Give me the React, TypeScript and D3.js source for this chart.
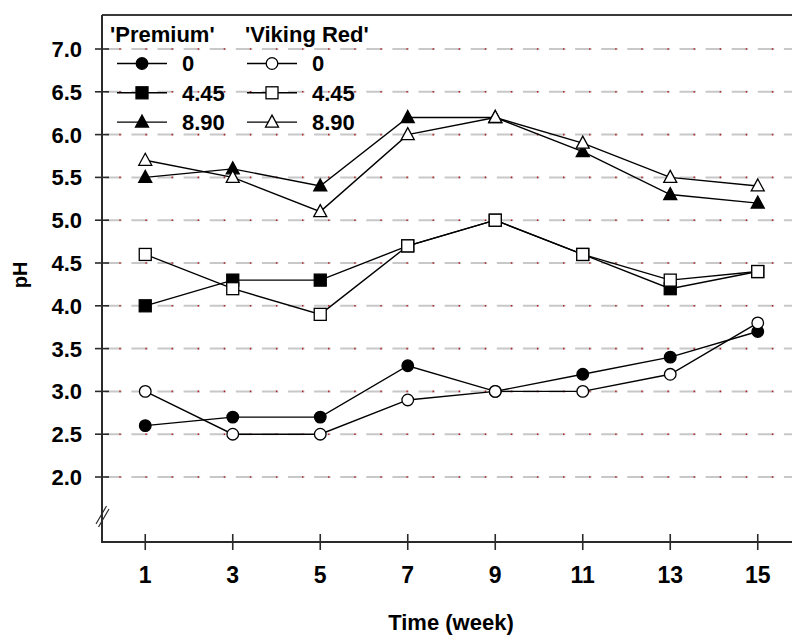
import React from "react";
import * as d3 from "d3";

const weeks = [1, 3, 5, 7, 9, 11, 13, 15];
const premium0 = [2.6, 2.7, 2.7, 3.3, 3.0, 3.2, 3.4, 3.7];
const viking0 = [3.0, 2.5, 2.5, 2.9, 3.0, 3.0, 3.2, 3.8];
const premium445 = [4.0, 4.3, 4.3, 4.7, 5.0, 4.6, 4.2, 4.4];
const viking445 = [4.6, 4.2, 3.9, 4.7, 5.0, 4.6, 4.3, 4.4];
const premium890 = [5.5, 5.6, 5.4, 6.2, 6.2, 5.8, 5.3, 5.2];
const viking890 = [5.7, 5.5, 5.1, 6.0, 6.2, 5.9, 5.5, 5.4];
const yTicks = [2.0, 2.5, 3.0, 3.5, 4.0, 4.5, 5.0, 5.5, 6.0, 6.5, 7.0];
const xTicks = [1, 3, 5, 7, 9, 11, 13, 15];
const legendLabels = ["0", "4.45", "8.90"];
const groupTitles = ["'Premium'", "'Viking Red'"];

type Shape = "circle" | "square" | "triangle";
const series: { values: number[]; shape: Shape; filled: boolean }[] = [
  { values: premium0, shape: "circle", filled: true },
  { values: premium445, shape: "square", filled: true },
  { values: premium890, shape: "triangle", filled: true },
  { values: viking0, shape: "circle", filled: false },
  { values: viking445, shape: "square", filled: false },
  { values: viking890, shape: "triangle", filled: false },
];

const W = 792;
const H = 635;
const axisX = 102;
const axisBottom = 542;
const axisTop = 15;
const FONT = "'Liberation Sans', Arial, sans-serif";

const x = d3.scaleLinear().domain([0, 16]).range([101.5, 801.5]);
const y = d3.scaleLinear().domain([2, 7]).range([477, 49]);

function Marker({ cx, cy, shape, filled }: { cx: number; cy: number; shape: Shape; filled: boolean }) {
  const fill = filled ? "#000" : "#fff";
  const stroke = "#000";
  const sw = 1.3;
  if (shape === "circle") return <circle cx={cx} cy={cy} r={5.8} fill={fill} stroke={stroke} strokeWidth={sw} />;
  if (shape === "square")
    return <rect x={cx - 6} y={cy - 6} width={12} height={12} fill={fill} stroke={stroke} strokeWidth={sw} />;
  const p = `M${cx},${cy - 7} L${cx + 6.5},${cy + 5} L${cx - 6.5},${cy + 5} Z`;
  return <path d={p} fill={fill} stroke={stroke} strokeWidth={sw} />;
}

export default function App() {
  const line = d3
    .line<[number, number]>()
    .x((d) => x(d[0]))
    .y((d) => y(d[1]));
  const period = 26.1;
  const dash = 16.5;
  const gridRight = W;
  // gray dash offset: first gap starts at 115.2
  const grayOffset = ((period - ((115.2 - dash - axisX) % period)) + period) % period;
  const dotStart = 119.3;
  const dotOffset = (period - ((dotStart - axisX) % period)) % period;

  return (
    <div style={{ position: "fixed", left: 0, top: 0 }}>
      <svg width={W} height={H} style={{ display: "block", background: "#fff" }} fontFamily={FONT}>
        {/* gridlines */}
        {yTicks.map((t) => (
          <g key={"g" + t}>
            <line
              x1={axisX}
              x2={gridRight}
              y1={y(t)}
              y2={y(t)}
              stroke="#c8c8c8"
              strokeWidth={2}
              strokeDasharray={`${dash} ${period - dash}`}
              strokeDashoffset={-grayOffset}
            />
            <line
              x1={axisX}
              x2={gridRight}
              y1={y(t)}
              y2={y(t)}
              stroke="#b02020"
              strokeWidth={1.6}
              strokeDasharray={`1.4 ${period - 1.4}`}
              strokeDashoffset={dotOffset}
            />
          </g>
        ))}
        {/* frame */}
        <line x1={axisX} x2={W} y1={axisTop} y2={axisTop} stroke="#3a3a3a" strokeWidth={2} />
        <line x1={axisX} x2={axisX} y1={axisTop} y2={axisBottom + 1} stroke="#2a2a2a" strokeWidth={2} />
        <line x1={axisX - 1} x2={W} y1={axisBottom} y2={axisBottom} stroke="#2a2a2a" strokeWidth={2} />
        {/* axis break */}
        <line x1={96} y1={524} x2={106.5} y2={506} stroke="#2a2a2a" strokeWidth={1.2} />
        <line x1={98.5} y1={527} x2={109} y2={509} stroke="#2a2a2a" strokeWidth={1.2} />
        {/* y ticks */}
        {yTicks.map((t) => (
          <g key={"y" + t}>
            <line x1={95} x2={109} y1={y(t)} y2={y(t)} stroke="#2a2a2a" strokeWidth={1.6} />
            <text
              x={82}
              y={y(t)}
              dy="0.36em"
              textAnchor="end"
              fontSize={22}
              fontWeight="bold"
              fill="#000"
            >
              {t.toFixed(1)}
            </text>
          </g>
        ))}
        {/* x ticks */}
        {xTicks.map((t) => (
          <g key={"x" + t}>
            <line x1={x(t)} x2={x(t)} y1={534} y2={550} stroke="#2a2a2a" strokeWidth={1.6} />
            <text x={x(t)} y={583} textAnchor="middle" fontSize={23} fontWeight="bold" fill="#000">
              {t}
            </text>
          </g>
        ))}
        {/* axis titles */}
        <text x={451} y={630} textAnchor="middle" fontSize={22} fontWeight="bold">
          Time (week)
        </text>
        <text
          transform="translate(27,275) rotate(-90)"
          textAnchor="middle"
          fontSize={20}
          fontWeight="bold"
        >
          pH
        </text>
        {/* data lines */}
        {series.map((s, i) => (
          <path
            key={"l" + i}
            d={line(weeks.map((w, j) => [w, s.values[j]] as [number, number])) || ""}
            fill="none"
            stroke="#000"
            strokeWidth={1.4}
          />
        ))}
        {series.map((s, i) => (
          <g key={"m" + i}>
            {weeks.map((w, j) => (
              <Marker key={j} cx={x(w)} cy={y(s.values[j])} shape={s.shape} filled={s.filled} />
            ))}
          </g>
        ))}
        {/* legend */}
        {groupTitles.map((g, gi) => (
          <text key={g} x={gi === 0 ? 110 : 245} y={42} fontSize={22} fontWeight="bold">
            {g}
          </text>
        ))}
        {series.map((s, i) => {
          const col = i < 3 ? 0 : 1;
          const row = i % 3;
          const lx = col === 0 ? 117 : 247;
          const ly = 63.5 + row * 29.3;
          return (
            <g key={"lg" + i}>
              <line x1={lx} x2={lx + 50} y1={ly} y2={ly} stroke="#000" strokeWidth={1.4} />
              <Marker cx={lx + 25} cy={ly} shape={s.shape} filled={s.filled} />
              <text x={lx + 65} y={ly} dy="0.36em" fontSize={22} fontWeight="bold">
                {legendLabels[row]}
              </text>
            </g>
          );
        })}
      </svg>
    </div>
  );
}
